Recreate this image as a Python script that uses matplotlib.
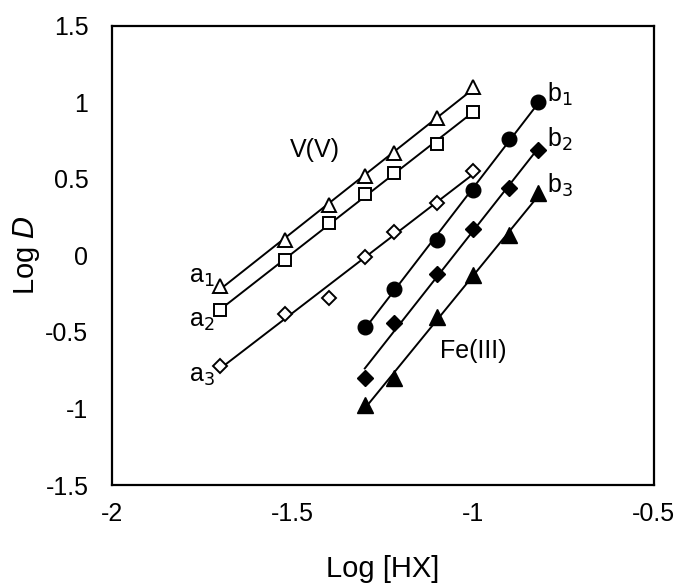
import numpy as np
import matplotlib
matplotlib.use("Agg")
import matplotlib.pyplot as plt

plt.rcParams['font.family'] = ['Liberation Sans', 'DejaVu Sans']

# Data
x_a = [-1.7, -1.52, -1.4, -1.3, -1.22, -1.1, -1.0]
a1 = [-0.2, 0.1, 0.33, 0.52, 0.67, 0.9, 1.1]
a2 = [-0.36, -0.03, 0.21, 0.40, 0.54, 0.73, 0.935]
a3 = [-0.72, -0.38, -0.28, -0.01, 0.15, 0.34, 0.55]

x_b = [-1.3, -1.22, -1.1, -1.0, -0.9, -0.82]
b1 = [-0.47, -0.22, 0.10, 0.43, 0.76, 1.0]
b2 = [-0.80, -0.44, -0.12, 0.17, 0.44, 0.69]
b3 = [-0.98, -0.80, -0.405, -0.13, 0.13, 0.405]

x_ticks = [-2, -1.5, -1, -0.5]
x_ticklabels = ['-2', '-1.5', '-1', '-0.5']
y_ticks = [-1.5, -1, -0.5, 0, 0.5, 1, 1.5]
y_ticklabels = ['-1.5', '-1', '-0.5', '0', '0.5', '1', '1.5']

fig = plt.figure(figsize=(6.76, 5.83), dpi=100)
ax = fig.add_axes([0.1657, 0.168, 0.8013, 0.788])

series = [
    (x_a, a1, dict(marker='^', mfc='white', mec='black', ms=10, mew=1.4)),
    (x_a, a2, dict(marker='s', mfc='white', mec='black', ms=8.5, mew=1.4)),
    (x_a, a3, dict(marker='D', mfc='white', mec='black', ms=7, mew=1.4)),
    (x_b, b1, dict(marker='o', mfc='black', mec='black', ms=10.5)),
    (x_b, b2, dict(marker='D', mfc='black', mec='black', ms=8.5)),
    (x_b, b3, dict(marker='^', mfc='black', mec='black', ms=12)),
]
for xs, ys, st in series:
    xs = np.asarray(xs); ys = np.asarray(ys)
    k, c = np.polyfit(xs, ys, 1)
    xl = np.array([xs.min(), xs.max()])
    ax.plot(xl, k * xl + c, color='black', lw=1.4, zorder=2)
    ax.plot(xs, ys, linestyle='none', zorder=3, **st)

ax.set_xlim(-2, -0.5)
ax.set_ylim(-1.5, 1.5)
ax.set_xticks(x_ticks)
ax.set_xticklabels(x_ticklabels)
ax.set_yticks(y_ticks)
ax.set_yticklabels(y_ticklabels)
ax.tick_params(length=0, labelsize=18)
ax.tick_params(axis='x', pad=12)
ax.tick_params(axis='y', pad=17)
for s in ax.spines.values():
    s.set_linewidth(1.6)

ax.set_xlabel('Log [HX]', fontsize=21, va='center')
ax.xaxis.set_label_coords(0.5, -0.183)
ax.set_ylabel('Log $\\mathit{D}$', fontsize=21, va='center')
ax.yaxis.set_label_coords(-0.158, 0.5)

fs = 18
ax.text(-1.438, 0.686, 'V(V)', fontsize=fs, ha='center', va='center')
ax.text(-0.999, -0.627, 'Fe(III)', fontsize=fs, ha='center', va='center')
ax.text(-1.752, -0.14, 'a$_1$', fontsize=fs, ha='center', va='center')
ax.text(-1.752, -0.43, 'a$_2$', fontsize=fs, ha='center', va='center')
ax.text(-1.752, -0.79, 'a$_3$', fontsize=fs, ha='center', va='center')
ax.text(-0.795, 1.05, 'b$_1$', fontsize=fs, ha='left', va='center')
ax.text(-0.795, 0.76, 'b$_2$', fontsize=fs, ha='left', va='center')
ax.text(-0.795, 0.46, 'b$_3$', fontsize=fs, ha='left', va='center')

fig.savefig('out.png', dpi=100)
